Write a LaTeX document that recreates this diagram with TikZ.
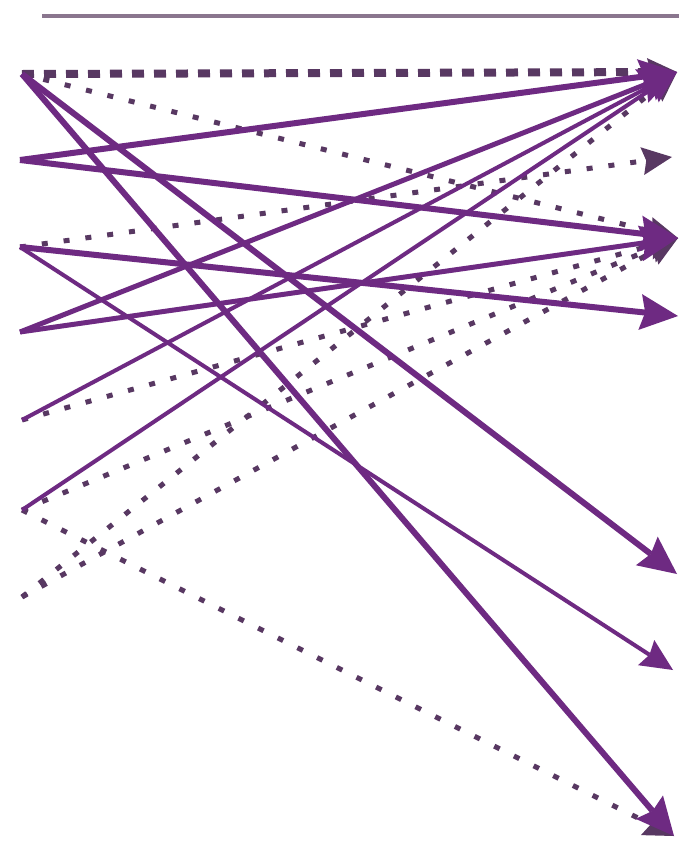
\documentclass[tikz,border=0pt]{standalone}
\usepackage{tikz}
\usetikzlibrary{arrows.meta}
\definecolor{plum}{RGB}{110,42,130}
\definecolor{dustplum}{RGB}{88,56,98}
\definecolor{greyplum}{RGB}{138,118,142}
\tikzset{
  flow/.style={-{Stealth[length=38pt,width=36pt,inset=5pt,line width=0pt]},draw=plum,line width=6pt},
  thinflow/.style={flow,line width=4pt,-{Stealth[length=32pt,width=30pt,inset=4pt,line width=0pt]}},
  link/.style={-{Stealth[length=30pt,width=28pt,inset=4pt,line width=0pt]},draw=dustplum,line width=5pt,dash pattern=on 6pt off 16pt},
  boldlink/.style={link,line width=8pt,dash pattern=on 12pt off 10pt},
  rule/.style={draw=greyplum,line width=4pt}
}
\begin{document}
\begin{tikzpicture}[x=1pt,y=-1pt]
  \useasboundingbox[fill=white] (0,0) rectangle (679,844);
  % header rule
  \coordinate (ruleL) at (42,16);
  \coordinate (ruleR) at (679,16);
  \draw[rule] (ruleL)--(ruleR);
  % sources on the left
  \coordinate (s1) at (22,74);
  \coordinate (s2) at (20,160);
  \coordinate (s3) at (20,247);
  \coordinate (s4) at (20,332);
  \coordinate (s5) at (22,420);
  \coordinate (s6) at (22,510);
  \coordinate (s7) at (22,597);
  % targets on the right
  \coordinate (t1) at (677,72);
  \coordinate (t2) at (672,157);
  \coordinate (t3) at (678,238);
  \coordinate (t4) at (678,316);
  \coordinate (t5) at (677,574);
  \coordinate (t6) at (673,670);
  \coordinate (t7) at (674,836);
  % dashed links
  \draw[boldlink] (s1)--(t1);
  \draw[link] (s1)--(t3);
  \draw[link] (s3)--(t2);
  \draw[link] (s5)--(t3);
  \draw[link] (s6)--(t3);
  \draw[link] (s6)--(t7);
  \draw[link] (s7)--(t1);
  \draw[link] (s7)--(t3);
  % solid flows
  \draw[flow] (s1)--(t5);
  \draw[flow] (s1)--(t7);
  \draw[flow] (s2)--(t1);
  \draw[flow] (s2)--(t3);
  \draw[flow] (s3)--(t4);
  \draw[thinflow] (s3)--(t6);
  \draw[flow,line width=5pt] (s4)--(t1);
  \draw[flow,line width=5pt] (s4)--(t3);
  \draw[thinflow] (s5)--(t1);
  \draw[thinflow] (s6)--(t1);
\end{tikzpicture}
\end{document}
